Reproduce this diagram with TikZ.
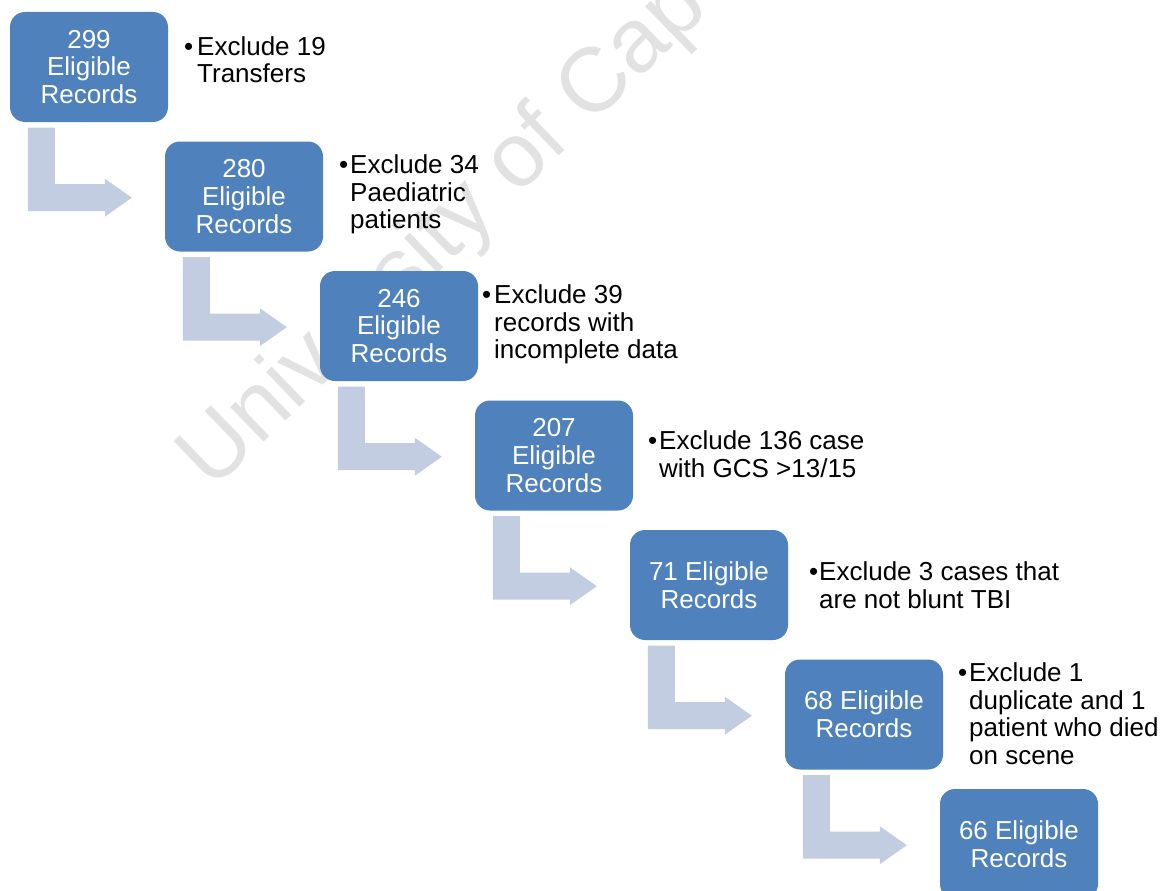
\documentclass[tikz,border=0pt]{standalone}
\usepackage{fontspec}
\setmainfont{Liberation Sans}
\usetikzlibrary{calc}
\definecolor{boxblue}{RGB}{79,129,189}
\definecolor{arrowfill}{RGB}{195,205,225}
\definecolor{wmgray}{RGB}{226,226,226}
\newcommand\fsz{\fontsize{26}{27.7}\selectfont}
\begin{document}
\begin{tikzpicture}[x=1pt,y=-1pt,
  box/.style={fill=boxblue, rounded corners=15pt, minimum width=158pt, minimum height=110pt, text=white, align=center, inner sep=0pt, font=\fsz},
  note/.style={anchor=base west, align=left, inner sep=0pt, font=\fsz},
  bul/.style={anchor=base west, inner sep=0pt, font=\fsz},
  bendarrow/.style={fill=arrowfill}]
\useasboundingbox (0,0) rectangle (1171,891);
\clip (0,0) rectangle (1171,891);
% watermark
\node[rotate=44, anchor=base west, inner sep=0pt, font=\fontsize{91}{91}\selectfont, text=wmgray] (wm) at (212,492) {University of Cape Town};
% boxes
\node[box] (b1) at (89,67) {299\\Eligible\\Records};
\node[box] (b2) at (244,196.5) {280\\Eligible\\Records};
\node[box] (b3) at (399,326) {246\\Eligible\\Records};
\node[box] (b4) at (554,455.5) {207\\Eligible\\Records};
\node[box] (b5) at (709,585) {71 Eligible\\Records};
\node[box] (b6) at (864,714.5) {68 Eligible\\Records};
\node[box] (b7) at (1019,844) {66 Eligible\\Records};
% bent arrows
\foreach \k in {1,...,6} {
  \fill[bendarrow] ($(b\k.south west)+(18,5.5)$) -- ++(27,0) -- ++(0,56.5) -- ++(50,0) -- ++(0,-5.5) -- ++(27,19) -- ++(-27,19) -- ++(0,-5.5) -- ++(-77,0) -- cycle;
}
% notes (anchor is the baseline of the last line)
\node[bul] (u1) at (184,55.3) {•};
\node[note] (n1) at (197,83) {Exclude 19\\Transfers};
\node[bul] (u2) at (339,173.3) {•};
\node[note] (n2) at (350,228.7) {Exclude 34\\Paediatric\\patients};
\node[bul] (u3) at (482,303.3) {•};
\node[note] (n3) at (494,358.7) {Exclude 39\\records with\\incomplete data};
\node[bul] (u4) at (648,449.3) {•};
\node[note] (n4) at (659,477) {Exclude 136 case\\with GCS >13/15};
\node[bul] (u5) at (809,580.3) {•};
\node[note] (n5) at (819,608) {Exclude 3 cases that\\are not blunt TBI};
\node[bul] (u6) at (958,681.3) {•};
\node[note] (n6) at (969,764.4) {Exclude 1\\duplicate and 1\\patient who died\\on scene};
\end{tikzpicture}
\end{document}
